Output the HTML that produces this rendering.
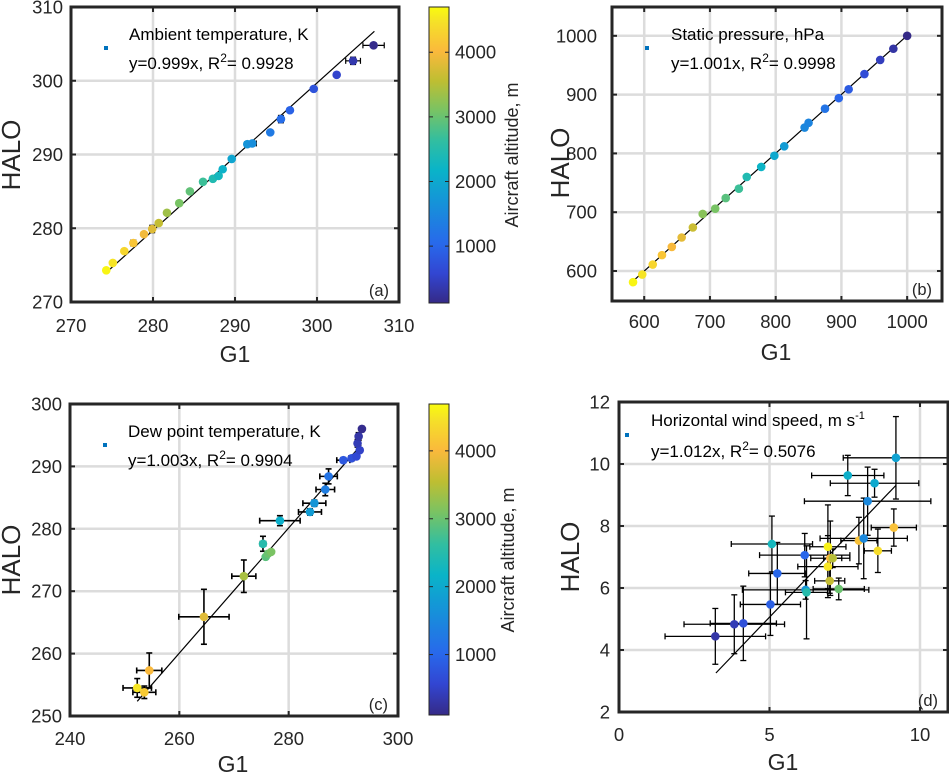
<!DOCTYPE html>
<html><head><meta charset="utf-8"><style>
body{margin:0;background:#fff}
svg{display:block;font-family:"Liberation Sans",Arial,sans-serif}
</style></head><body>
<svg id="fig" width="949" height="776" viewBox="0 0 949 776">
<defs>
<linearGradient id="parula" x1="0" y1="1" x2="0" y2="0">
<stop offset="0" stop-color="rgb(53,42,135)"/><stop offset="0.1" stop-color="rgb(50,70,210)"/><stop offset="0.2" stop-color="rgb(40,105,235)"/><stop offset="0.35" stop-color="rgb(20,150,215)"/><stop offset="0.45" stop-color="rgb(10,180,200)"/><stop offset="0.55" stop-color="rgb(50,190,160)"/><stop offset="0.65" stop-color="rgb(120,195,100)"/><stop offset="0.75" stop-color="rgb(190,190,50)"/><stop offset="0.85" stop-color="rgb(250,185,60)"/><stop offset="0.95" stop-color="rgb(245,225,40)"/><stop offset="1" stop-color="rgb(249,251,14)"/>
</linearGradient>
</defs>
</svg>
<script>
// ---- Panel (a) data
const aX=[274.3,275.1,276.5,277.6,278.9,279.9,280.7,281.7,283.2,284.5,286.1,287.3,288.0,288.5,289.6,291.5,292.1,294.3,295.6,296.7,299.6,302.4,304.4,306.9];
const aY=[274.3,275.3,276.9,278.0,279.2,279.9,280.7,282.1,283.4,285.0,286.3,286.7,287.1,288.0,289.4,291.4,291.5,293.0,294.8,296.0,298.9,300.8,302.7,304.8];
const aAlt=[4650,4500,4350,4150,3950,3800,3600,3350,3100,2950,2700,2450,2300,2150,1950,1700,1600,1300,1100,950,750,550,350,150];
const aXErr=[0.2,0.2,0.2,0.3,0.2,0.2,0.2,0.2,0.2,0.2,0.2,0.2,0.2,0.2,0.2,0.3,0.5,0.2,0.2,0.2,0.3,0.2,0.9,1.3];
const aYErr=[0.2,0.2,0.2,0.4,0.2,0.5,0.2,0.2,0.2,0.2,0.2,0.2,0.2,0.2,0.2,0.2,0.2,0.2,0.5,0.2,0.2,0.2,0.5,0.3];
const aSlope=1.0, aFitRange=[274.3,307.0];
// ---- Panel (b) data
const bX=[583,597,613,627,642,657,674,689,708,724,744,756,778,798,813,844,850,875,896,911,935,959,979,1000];
const bY=[581,594,611,627,641,657,674,697,706,724,740,760,777,796,812,844,852,876,894,909,935,959,978,1000];
const bAlt=[4650,4500,4330,4150,4000,3850,3650,3200,3100,2900,2700,2450,2200,2000,1800,1500,1450,1200,1000,850,650,450,300,120];
const bSlope=1.001, bFitRange=[583,1000];
// ---- Panel (c) data
const cX=[252.3,253.6,254.5,264.5,271.8,275.3,275.8,276.2,276.8,278.4,283.9,284.7,286.7,287.3,290.0,291.5,292.4,293.0,292.6,292.8,293.4];
const cY=[254.5,253.8,257.3,265.9,272.4,277.6,275.5,276.0,276.3,281.3,282.7,284.1,286.3,288.4,291.0,291.3,291.6,292.6,293.7,294.8,296.0];
const cAlt=[4500,4200,4000,3800,3400,2500,2900,3000,3100,2100,1800,1700,1350,1200,800,700,600,500,400,300,150];
const cXErr=[2.6,2.1,2.3,4.6,2.2,0.5,0.3,0.3,0.3,3.7,2.1,2.1,1.7,1.6,1.2,0.5,0.4,0.3,0.3,0.3,0.3];
const cYErr=[1.5,1.0,2.8,4.4,2.6,1.2,0.3,0.3,0.3,0.8,0.5,0.5,1.0,1.2,0.4,0.3,0.3,0.3,0.6,0.6,0.4];
const cSlope=1.003, cFitRange=[252.3,293.3];
// ---- Panel (d) data
const dX=[3.2,3.83,4.13,5.03,5.26,5.08,6.17,6.2,6.23,6.94,7.02,7.1,6.94,7.0,7.3,7.6,7.97,8.13,8.26,8.49,8.6,9.13,9.2];
const dY=[4.44,4.83,4.86,5.47,6.47,7.42,7.06,5.94,5.86,7.33,6.96,6.96,6.69,6.23,5.97,9.63,7.53,7.6,8.8,9.38,7.2,7.95,10.2];
const dAlt=[300,400,700,900,1000,2300,1000,1700,2500,4600,4000,3500,4500,3600,3000,2100,4100,1500,1500,2000,4400,4100,1900];
const dXErr=[1.67,1.67,1.1,1.0,0.95,1.35,1.5,2.1,0.7,0.6,0.65,0.3,1.0,0.5,0.85,1.2,0.6,1.45,2.1,1.47,0.45,0.75,1.75];
const dYErr=[0.9,0.95,1.2,1.0,1.0,0.9,0.7,0.3,1.5,1.35,1.2,0.3,1.0,0.4,0.35,0.65,0.75,1.3,1.1,0.45,0.7,0.6,1.33];
const dSlope=1.012, dFitRange=[3.22,9.2];
// ---- ticks
const aTicks=[270,280,290,300,310], bTicks=[600,700,800,900,1000], cXTicks=[240,260,280,300], cYTicks=[250,260,270,280,290,300];
const dXTicks=[0,5,10], dYTicks=[2,4,6,8,10,12], cbTicks=[1000,2000,3000,4000];

const NS='http://www.w3.org/2000/svg';
const svg=document.getElementById('fig');
function mk(tag,attrs,parent,text){const e=document.createElementNS(NS,tag);for(const k in attrs)e.setAttribute(k,attrs[k]);if(text!==undefined)e.textContent=text;(parent||svg).appendChild(e);return e;}
const stops=[[0,53,42,135],[0.1,50,70,210],[0.2,40,105,235],[0.35,20,150,215],[0.45,10,180,200],[0.55,50,190,160],[0.65,120,195,100],[0.75,190,190,50],[0.85,250,185,60],[0.95,245,225,40],[1,249,251,14]];
function parula(t){t=Math.max(0,Math.min(1,t));for(let i=1;i<stops.length;i++){if(t<=stops[i][0]){const a=stops[i-1],b=stops[i],f=(t-a[0])/(b[0]-a[0]);return `rgb(${[1,2,3].map(k=>Math.round(a[k]+f*(b[k]-a[k]))).join(',')})`;}}return 'rgb(249,251,14)';}
const TXT='#262626';

function panel(p){
  const g=mk('g',{});
  
  
  const sx=v=>p.L+(v-p.xr[0])/(p.xr[1]-p.xr[0])*(p.R-p.L);
  const sy=v=>p.B-(v-p.yr[0])/(p.yr[1]-p.yr[0])*(p.B-p.T);
  p.xt.forEach(v=>{const x=sx(v);if(x>p.L+2&&x<p.R-2){const l=mk('line',{x1:x,x2:x,y1:p.T,y2:p.B,stroke:'#dcdcdc','stroke-width':2.5},g);}});
  p.yt.forEach(v=>{const y=sy(v);if(y>p.T+2&&y<p.B-2){const l=mk('line',{x1:p.L,x2:p.R,y1:y,y2:y,stroke:'#dcdcdc','stroke-width':2.5},g);}});
  p.xt.forEach(v=>{const x=sx(v);
    mk('line',{x1:x,x2:x,y1:p.B,y2:p.B-5,stroke:TXT,'stroke-width':2},g);mk('line',{x1:x,x2:x,y1:p.T,y2:p.T+5,stroke:TXT,'stroke-width':2},g);
    const t=mk('text',{x:x,y:p.B+p.xtOff,'text-anchor':'middle','font-size':18.5,fill:TXT},g,String(v));
    });
  p.yt.forEach(v=>{const y=sy(v);
    mk('line',{x1:p.L,x2:p.L+5,y1:y,y2:y,stroke:TXT,'stroke-width':2},g);mk('line',{x1:p.R,x2:p.R-5,y1:y,y2:y,stroke:TXT,'stroke-width':2},g);
    const t=mk('text',{x:p.ytX,y:y+6.5,'text-anchor':'end','font-size':18.5,fill:TXT},g,String(v));
    });
  const fl=mk('line',{x1:sx(p.fit[0]),y1:sy(p.slope*p.fit[0]+p.icpt),x2:sx(p.fit[1]),y2:sy(p.slope*p.fit[1]+p.icpt),stroke:'#000','stroke-width':1.2},g);
  
  p.x.forEach((xv,i)=>{
    const cx=sx(xv),cy=sy(p.y[i]);
    if(p.xe){const e=p.xe[i];mk('line',{x1:sx(xv-e),x2:sx(xv+e),y1:cy,y2:cy,stroke:'#000','stroke-width':p.ew},g);
      mk('line',{x1:sx(xv-e),x2:sx(xv-e),y1:cy-3,y2:cy+3,stroke:'#000','stroke-width':p.ew},g);mk('line',{x1:sx(xv+e),x2:sx(xv+e),y1:cy-3,y2:cy+3,stroke:'#000','stroke-width':p.ew},g);}
    if(p.ye){const e=p.ye[i];mk('line',{x1:cx,x2:cx,y1:sy(p.y[i]-e),y2:sy(p.y[i]+e),stroke:'#000','stroke-width':p.ew},g);
      mk('line',{x1:cx-3,x2:cx+3,y1:sy(p.y[i]-e),y2:sy(p.y[i]-e),stroke:'#000','stroke-width':p.ew},g);mk('line',{x1:cx-3,x2:cx+3,y1:sy(p.y[i]+e),y2:sy(p.y[i]+e),stroke:'#000','stroke-width':p.ew},g);}
  });
  p.x.forEach((xv,i)=>{
    const c=mk('circle',{cx:sx(xv),cy:sy(p.y[i]),r:4.3,fill:parula((p.alt[i]-p.cmin)/(p.cmax-p.cmin))},g);
    
    
  });
  const fr=mk('rect',{x:p.L,y:p.T,width:p.R-p.L,height:p.B-p.T,fill:'none',stroke:TXT,'stroke-width':3},g);
  
  const sq=mk('rect',{x:p.lgSq[0]-2,y:p.lgSq[1]-2,width:4,height:4,fill:'#0072bd'},g);
  
  const l1=mk('text',{x:p.lgX,y:p.lgY[0],'font-size':17,fill:'#000'},g);l1.innerHTML=p.lg1;
  
  const l2=mk('text',{x:p.lgX,y:p.lgY[1],'font-size':17,fill:'#000'},g);l2.innerHTML=p.lg2;
  
  const pl=mk('text',{x:p.R-10,y:p.B-6,'text-anchor':'end','font-size':16.5,fill:TXT},g,'('+p.id+')');
  
  const xl=mk('text',{x:p.xlab[0],y:p.xlab[1],'text-anchor':'middle','font-size':23,fill:TXT},g,'G1');
  
  const yl=mk('text',{x:0,y:0,'text-anchor':'middle','font-size':26,fill:TXT,transform:`translate(${p.ylab[0]},${p.ylab[1]}) rotate(-90)`},g,'HALO');
  
}
function colorbar(cb){
  const g=mk('g',{});
  
  
  mk('rect',{x:cb.L,y:cb.T,width:cb.R-cb.L,height:cb.B-cb.T,fill:'url(#parula)',stroke:TXT,'stroke-width':1},g);
  const sy=v=>cb.B-(v-cb.min)/(cb.max-cb.min)*(cb.B-cb.T);
  cbTicks.forEach(v=>{const y=sy(v);
    mk('line',{x1:cb.L,x2:cb.L+4,y1:y,y2:y,stroke:TXT,'stroke-width':1},g);mk('line',{x1:cb.R,x2:cb.R-4,y1:y,y2:y,stroke:TXT,'stroke-width':1},g);
    const t=mk('text',{x:cb.R+6,y:y+6.5,'font-size':18.5,fill:TXT},g,String(v));
    });
  const t=mk('text',{x:0,y:0,'text-anchor':'middle','font-size':18,fill:TXT,transform:`translate(${cb.labX},${cb.labY}) rotate(-90)`},g,'Aircraft altitude, m');
  
}
panel({id:'a',L:71,R:399,T:7,B:302,xr:[270,310],yr:[270,310],xt:aTicks,yt:aTicks,xtOff:30,ytX:63,x:aX,y:aY,alt:aAlt,xe:aXErr,ye:aYErr,ew:1.2,cmin:120,cmax:4700,slope:aSlope,icpt:-0.3,fit:aFitRange,
  lgSq:[106,48],lgX:129,lgY:[40,69],lg1:'Ambient temperature, K',lg2:'y=0.999x, R<tspan dy="-7" font-size="12">2</tspan><tspan dy="7">= 0.9928</tspan>',xlab:[235,362],ylab:[20,155]});
panel({id:'b',L:612,R:942,T:7,B:301,xr:[551,1053],yr:[549,1049],xt:bTicks,yt:bTicks,xtOff:27,ytX:597,x:bX,y:bY,alt:bAlt,xe:null,ye:null,ew:1,cmin:120,cmax:4700,slope:bSlope,icpt:-0.6,fit:bFitRange,
  lgSq:[647,48],lgX:671,lgY:[40,69],lg1:'Static pressure, hPa',lg2:'y=1.001x, R<tspan dy="-7" font-size="12">2</tspan><tspan dy="7">= 0.9998</tspan>',xlab:[776,360],ylab:[569,163]});
panel({id:'c',L:70,R:398,T:404,B:716,xr:[240,300],yr:[250,300],xt:cXTicks,yt:cYTicks,xtOff:29,ytX:62,x:cX,y:cY,alt:cAlt,xe:cXErr,ye:cYErr,ew:1.6,cmin:110,cmax:4690,slope:cSlope,icpt:-0.7,fit:cFitRange,
  lgSq:[105,445],lgX:128,lgY:[437,466],lg1:'Dew point temperature, K',lg2:'y=1.003x, R<tspan dy="-7" font-size="12">2</tspan><tspan dy="7">= 0.9904</tspan>',xlab:[233,772],ylab:[20,560]});
panel({id:'d',L:619,R:948,T:402,B:712,xr:[0,10.93],yr:[2,12],xt:dXTicks,yt:dYTicks,xtOff:29,ytX:610,x:dX,y:dY,alt:dAlt,xe:dXErr,ye:dYErr,ew:1.3,cmin:110,cmax:4690,slope:dSlope,icpt:0,fit:dFitRange,
  lgSq:[627,435],lgX:651,lgY:[426,457],lg1:'Horizontal wind speed, m s<tspan dy="-7" font-size="11">-1</tspan>',lg2:'y=1.012x, R<tspan dy="-7" font-size="12">2</tspan><tspan dy="7">= 0.5076</tspan>',xlab:[783,770],ylab:[579,557]});
colorbar({L:429,R:449,T:7,B:303,min:120,max:4700,labX:518,labY:155});
colorbar({L:429,R:449,T:404,B:715,min:110,max:4690,labX:514,labY:560});
</script>
</body></html>
